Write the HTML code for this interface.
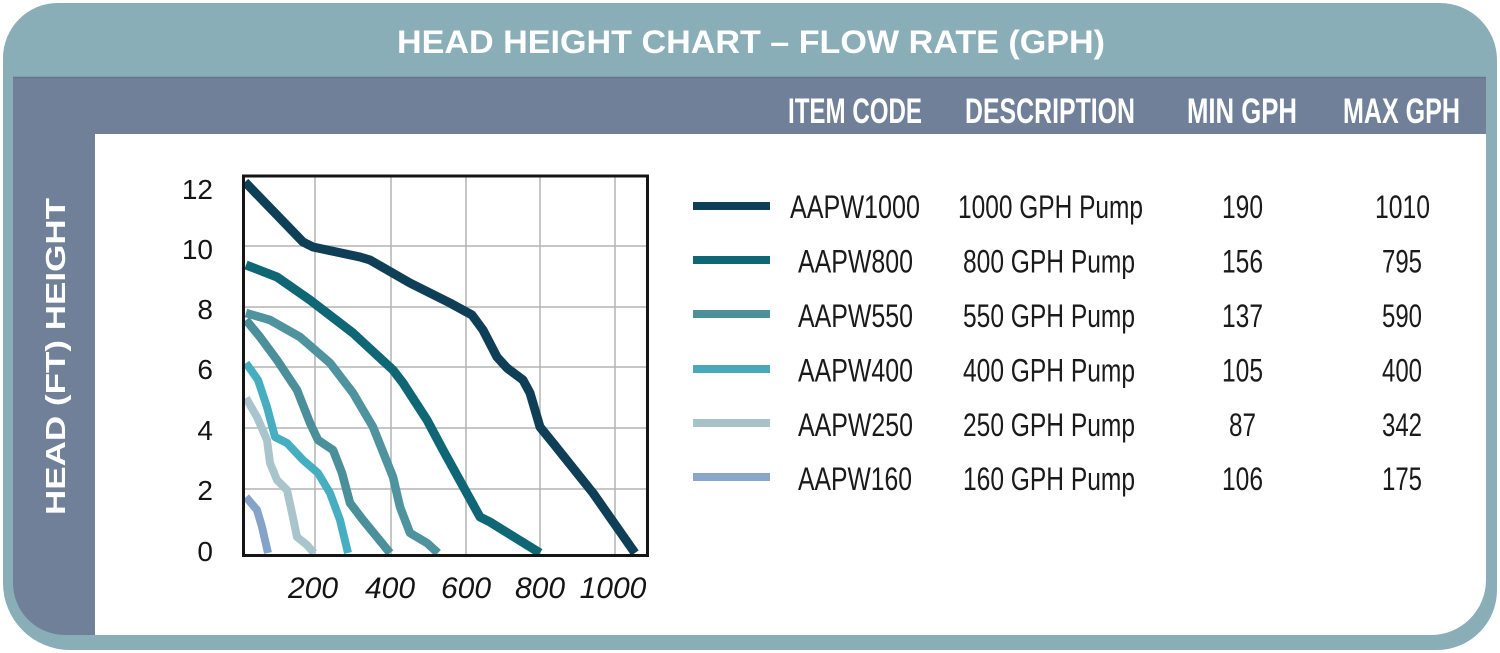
<!DOCTYPE html>
<html>
<head>
<meta charset="utf-8">
<style>
  html, body { margin:0; padding:0; background:#ffffff; }
  body { width:1500px; height:653px; overflow:hidden; }
  svg { display:block; }
  .cond { font-family: "Liberation Sans Narrow", "Liberation Sans", "DejaVu Sans Condensed", sans-serif; }
  .sans { font-family: "Liberation Sans", "DejaVu Sans", sans-serif; }
</style>
</head>
<body>
<svg width="1500" height="653" viewBox="0 0 1500 653" xmlns="http://www.w3.org/2000/svg">
  <!-- outer teal frame -->
  <path d="M58,3 H1440 A57,57 0 0 1 1497,60 V590 A60,60 0 0 1 1437,650 H70 A67,67 0 0 1 3,583 V58 A55,55 0 0 1 58,3 Z" fill="#8aaeb8"/>
  <!-- slate band + left strip -->
  <path d="M13,77 H1486 V134 H95 V635 H65 A52,52 0 0 1 13,583 Z" fill="#6f8098"/>
  <line x1="13" y1="77.5" x2="1486" y2="77.5" stroke="#62788c" stroke-width="1.5"/>
  <!-- white content -->
  <path d="M95,134 H1486 V580 A55,55 0 0 1 1431,635 H95 Z" fill="#ffffff"/>

  <!-- title -->
  <text class="sans" x="397" y="53" font-size="32" font-weight="bold" fill="#ffffff" textLength="708" lengthAdjust="spacingAndGlyphs">HEAD HEIGHT CHART – FLOW RATE (GPH)</text>

  <!-- header row -->
  <g class="cond" font-size="35" font-weight="bold" fill="#ffffff">
    <text x="788" y="123" textLength="134" lengthAdjust="spacingAndGlyphs">ITEM CODE</text>
    <text x="965" y="123" textLength="170" lengthAdjust="spacingAndGlyphs">DESCRIPTION</text>
    <text x="1187" y="123" textLength="110" lengthAdjust="spacingAndGlyphs">MIN GPH</text>
    <text x="1343" y="123" textLength="117" lengthAdjust="spacingAndGlyphs">MAX GPH</text>
  </g>

  <!-- vertical axis label -->
  <text class="sans" transform="translate(65,515) rotate(-90)" x="0" y="0" font-size="28" font-weight="bold" fill="#ffffff" textLength="317" lengthAdjust="spacingAndGlyphs">HEAD (FT) HEIGHT</text>

  <!-- grid -->
  <g stroke="#b3b3b3" stroke-width="1.5">
    <line x1="315" y1="176" x2="315" y2="555"/>
    <line x1="391" y1="176" x2="391" y2="555"/>
    <line x1="466" y1="176" x2="466" y2="555"/>
    <line x1="540" y1="176" x2="540" y2="555"/>
    <line x1="615" y1="176" x2="615" y2="555"/>
    <line x1="243" y1="246" x2="647" y2="246"/>
    <line x1="243" y1="307" x2="647" y2="307"/>
    <line x1="243" y1="367" x2="647" y2="367"/>
    <line x1="243" y1="428" x2="647" y2="428"/>
    <line x1="243" y1="489" x2="647" y2="489"/>
  </g>

  <!-- curves -->
  <g fill="none" stroke-linejoin="round" stroke-linecap="butt">
    <polyline stroke="#85a3c9" stroke-width="8" points="246,497 257,510 262,527 268,553"/>
    <polyline stroke="#a9c4cb" stroke-width="8" points="246,398 257,417 267,440 270,463 277,480 287,490 292,513 297,537 307,545 314,553"/>
    <polyline stroke="#47aec2" stroke-width="8" points="246,363 258,380 267,407 275,437 287,443 303,460 318,473 330,493 340,520 348,553"/>
    <polyline stroke="#4a8f99" stroke-width="8.5" points="246,320 260,337 277,360 297,390 310,423 318,440 333,450 342,473 350,503 363,520 390,553"/>
    <polyline stroke="#4e939d" stroke-width="8.5" points="246,313 270,320 300,337 330,363 353,393 373,427 393,477 400,507 410,533 427,543 438,553"/>
    <polyline stroke="#0f6674" stroke-width="9" points="246,265 277,277 310,300 353,333 393,370 403,383 427,420 443,450 480,517 490,522 540,553"/>
    <polyline stroke="#0e3f56" stroke-width="9" points="245,182 303,242 313,247 360,257 370,260 410,283 450,303 472,315 483,330 497,357 507,368 523,380 530,393 540,427 553,443 593,493 607,513 635,553"/>
  </g>

  <!-- plot box -->
  <rect x="243.5" y="176" width="404" height="379.5" fill="none" stroke="#151515" stroke-width="3"/>

  <!-- y labels -->
  <g class="sans" font-size="28" fill="#141414" text-anchor="end">
    <text x="213" y="199">12</text>
    <text x="213" y="259">10</text>
    <text x="213" y="319">8</text>
    <text x="213" y="379">6</text>
    <text x="213" y="440">4</text>
    <text x="213" y="500">2</text>
    <text x="213" y="561">0</text>
  </g>

  <!-- x labels -->
  <g class="sans" font-size="30" font-style="italic" fill="#141414" text-anchor="middle">
    <text x="313" y="598">200</text>
    <text x="390" y="598">400</text>
    <text x="466" y="598">600</text>
    <text x="540" y="598">800</text>
    <text x="613" y="598">1000</text>
  </g>

  <!-- legend swatches -->
  <g stroke-width="8">
    <line x1="693" y1="206" x2="770" y2="206" stroke="#0e3f56"/>
    <line x1="693" y1="260" x2="770" y2="260" stroke="#0f6674"/>
    <line x1="693" y1="314" x2="770" y2="314" stroke="#4e8f99"/>
    <line x1="693" y1="369" x2="770" y2="369" stroke="#4aa8bb"/>
    <line x1="693" y1="423" x2="770" y2="423" stroke="#a9c1c8"/>
    <line x1="693" y1="477" x2="770" y2="477" stroke="#8aa6c8"/>
  </g>

  <!-- table rows -->
  <g class="cond" font-size="32" fill="#1a1a1a">
    <text x="790" y="218" textLength="130" lengthAdjust="spacingAndGlyphs">AAPW1000</text>
    <text x="958" y="218" textLength="185" lengthAdjust="spacingAndGlyphs">1000 GPH Pump</text>
    <text x="1222" y="218" textLength="41" lengthAdjust="spacingAndGlyphs">190</text>
    <text x="1375" y="218" textLength="55" lengthAdjust="spacingAndGlyphs">1010</text>

    <text x="798" y="272.5" textLength="115" lengthAdjust="spacingAndGlyphs">AAPW800</text>
    <text x="963" y="272.5" textLength="172" lengthAdjust="spacingAndGlyphs">800 GPH Pump</text>
    <text x="1222" y="272.5" textLength="41" lengthAdjust="spacingAndGlyphs">156</text>
    <text x="1382" y="272.5" textLength="40" lengthAdjust="spacingAndGlyphs">795</text>

    <text x="798" y="327" textLength="115" lengthAdjust="spacingAndGlyphs">AAPW550</text>
    <text x="963" y="327" textLength="172" lengthAdjust="spacingAndGlyphs">550 GPH Pump</text>
    <text x="1222" y="327" textLength="41" lengthAdjust="spacingAndGlyphs">137</text>
    <text x="1382" y="327" textLength="40" lengthAdjust="spacingAndGlyphs">590</text>

    <text x="798" y="381.5" textLength="115" lengthAdjust="spacingAndGlyphs">AAPW400</text>
    <text x="963" y="381.5" textLength="172" lengthAdjust="spacingAndGlyphs">400 GPH Pump</text>
    <text x="1222" y="381.5" textLength="41" lengthAdjust="spacingAndGlyphs">105</text>
    <text x="1382" y="381.5" textLength="40" lengthAdjust="spacingAndGlyphs">400</text>

    <text x="798" y="436" textLength="115" lengthAdjust="spacingAndGlyphs">AAPW250</text>
    <text x="963" y="436" textLength="172" lengthAdjust="spacingAndGlyphs">250 GPH Pump</text>
    <text x="1229" y="436" textLength="27" lengthAdjust="spacingAndGlyphs">87</text>
    <text x="1382" y="436" textLength="40" lengthAdjust="spacingAndGlyphs">342</text>

    <text x="798" y="490" textLength="114" lengthAdjust="spacingAndGlyphs">AAPW160</text>
    <text x="963" y="490" textLength="172" lengthAdjust="spacingAndGlyphs">160 GPH Pump</text>
    <text x="1222" y="490" textLength="41" lengthAdjust="spacingAndGlyphs">106</text>
    <text x="1382" y="490" textLength="40" lengthAdjust="spacingAndGlyphs">175</text>
  </g>
</svg>
</body>
</html>
